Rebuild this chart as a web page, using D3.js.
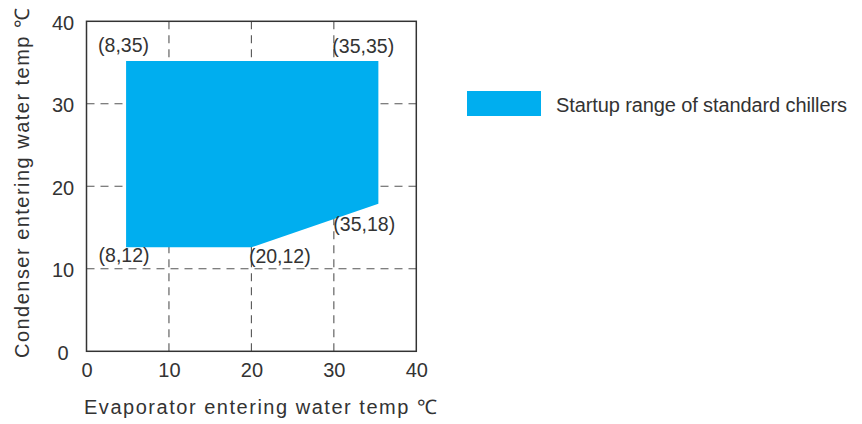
<!DOCTYPE html>
<html>
<head>
<meta charset="utf-8">
<script src="https://cdn.jsdelivr.net/npm/d3@7"></script>
<style>
  html, body { margin: 0; padding: 0; background: #fff; }
  svg { display: block; }
  text { font-family: "Liberation Sans", Arial, Helvetica, sans-serif; fill: #333; }
</style>
</head>
<body>
<svg id="chart" width="862" height="424"></svg>
<script>
// ---- data ----
const xTicks = [0, 10, 20, 30, 40];
const yTicks = [0, 10, 20, 30, 40];
const gridTicks = [10, 20, 30];
// drawn outline of the startup range
const regionX = [4.8, 35.4, 35.4, 20, 4.8];
const regionY = [35.2, 35.2, 17.9, 12.6, 12.6];
// corner annotations (text as printed in the reference)
const cornerLabels = ["(8,35)", "(35,35)", "(35,18)", "(20,12)", "(8,12)"];
const legendLabel = "Startup range of standard chillers";
const xTitle = "Evaporator entering water temp \u2103";
const yTitle = "Condenser entering water temp \u2103";

// ---- layout ----
const svg = d3.select("#chart");
const pL = 86.5, pR = 416.3, pT = 21.3, pB = 351.3;
const x = d3.scaleLinear().domain([0, 40]).range([pL, pR]);
const y = d3.scaleLinear().domain([0, 40]).range([pB, pT]);

// grid
const grid = svg.append("g").attr("stroke", "#555").attr("stroke-width", 1.1)
  .attr("stroke-dasharray", "8,6").attr("fill", "none");
grid.selectAll("line.v").data(gridTicks).join("line").attr("class", "v")
  .attr("x1", d => x(d)).attr("x2", d => x(d)).attr("y1", pT).attr("y2", pB);
grid.selectAll("line.h").data(gridTicks).join("line").attr("class", "h")
  .attr("y1", d => y(d)).attr("y2", d => y(d)).attr("x1", pL).attr("x2", pR);

// region polygon
const pts = regionX.map((v, i) => [v, regionY[i]]);
svg.append("path")
  .attr("d", d3.line().x(d => x(d[0])).y(d => y(d[1]))(pts) + "Z")
  .attr("fill", "#00AEEF");

// frame
svg.append("rect").attr("x", pL).attr("y", pT)
  .attr("width", pR - pL).attr("height", pB - pT)
  .attr("fill", "none").attr("stroke", "#333").attr("stroke-width", 1.5);

// axes (labels only)
const xAxis = svg.append("g").attr("transform", `translate(0,${pB})`)
  .call(d3.axisBottom(x).tickValues(xTicks).tickSize(0).tickPadding(12));
const yAxis = svg.append("g").attr("transform", `translate(${pL},0)`)
  .call(d3.axisLeft(y).tickValues(yTicks).tickSize(0).tickPadding(23.5));
[xAxis, yAxis].forEach(g => {
  g.select(".domain").remove();
  g.selectAll("text").attr("font-size", 20).attr("fill", "#333")
    .attr("font-family", '"Liberation Sans", Arial, sans-serif');
});
yAxis.selectAll("text").attr("text-anchor", "middle").attr("dy", "0.4em");

// corner labels: pixel offsets from each vertex
const labelOffsets = [[-28, -8.5], [-46, -8], [-45, 27], [-2.5, 16], [-27.5, 15]];
svg.append("g").selectAll("text").data(cornerLabels).join("text")
  .attr("x", (d, i) => x(regionX[i]) + labelOffsets[i][0])
  .attr("y", (d, i) => y(regionY[i]) + labelOffsets[i][1])
  .attr("font-size", 19.5)
  .text(d => d);

// titles
svg.append("text").attr("x", 84).attr("y", 414).attr("font-size", 20)
  .attr("textLength", 353).attr("lengthAdjust", "spacing").text(xTitle);
svg.append("text").attr("transform", "translate(29,358) rotate(-90)")
  .attr("font-size", 20).attr("textLength", 350).attr("lengthAdjust", "spacing")
  .text(yTitle);

// legend
svg.append("rect").attr("x", 467).attr("y", 91).attr("width", 74).attr("height", 25)
  .attr("fill", "#00AEEF");
svg.append("text").attr("x", 556).attr("y", 111.7).attr("font-size", 20)
  .attr("textLength", 291).attr("lengthAdjust", "spacing").text(legendLabel);
</script>
</body>
</html>
